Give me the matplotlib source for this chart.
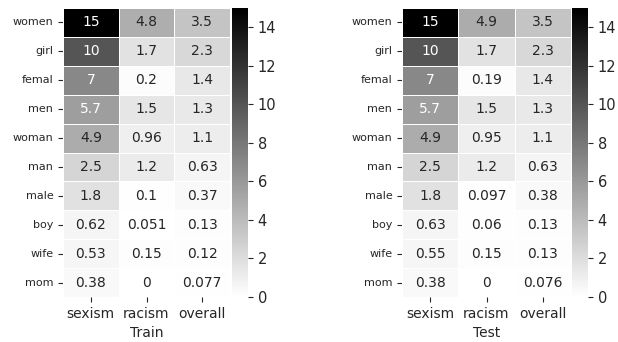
import numpy as np
import pandas as pd
import matplotlib
matplotlib.use("Agg")
import matplotlib.pyplot as plt
import seaborn as sns

words = ["women", "girl", "femal", "men", "woman", "man", "male", "boy", "wife", "mom"]
cols = ["sexism", "racism", "overall"]

train_sexism = [15.0, 10, 7, 5.7, 4.9, 2.5, 1.8, 0.62, 0.53, 0.38]
train_racism = [4.8, 1.7, 0.2, 1.5, 0.96, 1.2, 0.1, 0.051, 0.15, 0]
train_overall = [3.5, 2.3, 1.4, 1.3, 1.1, 0.63, 0.37, 0.13, 0.12, 0.077]

test_sexism = [15.0, 10, 7, 5.7, 4.9, 2.5, 1.8, 0.63, 0.55, 0.38]
test_racism = [4.9, 1.7, 0.19, 1.5, 0.95, 1.2, 0.097, 0.06, 0.15, 0]
test_overall = [3.5, 2.3, 1.4, 1.3, 1.1, 0.63, 0.38, 0.13, 0.13, 0.076]

sns.set_style("ticks")

train = pd.DataFrame({"sexism": train_sexism, "racism": train_racism,
                      "overall": train_overall}, index=words)[cols]
test = pd.DataFrame({"sexism": test_sexism, "racism": test_racism,
                     "overall": test_overall}, index=words)[cols]

W, H = 618, 342
fig = plt.figure(figsize=(W / 100, H / 100), dpi=100)


def box(x0, y0, x1, y1):
    return [x0 / W, 1 - y1 / H, (x1 - x0) / W, (y1 - y0) / H]


panels = [
    (train, "Train", box(63, 8, 230, 297), box(232, 8, 248, 297)),
    (test, "Test", box(402, 8, 571, 297), box(572, 8, 588, 297)),
]

for df, title, hm_box, cb_box in panels:
    ax = fig.add_axes(hm_box)
    cax = fig.add_axes(cb_box)
    sns.heatmap(df, ax=ax, cbar_ax=cax, cmap="gray_r", vmin=0, annot=True,
                linewidths=0.6, linecolor="white", annot_kws={"fontsize": 10})
    ax.set_xlabel(title, fontsize=10)
    ax.tick_params(axis="x", labelsize=10)
    ax.tick_params(axis="y", labelsize=8, rotation=0)
    cax.tick_params(labelsize=10.5)

fig.savefig("out.png", dpi=100)
